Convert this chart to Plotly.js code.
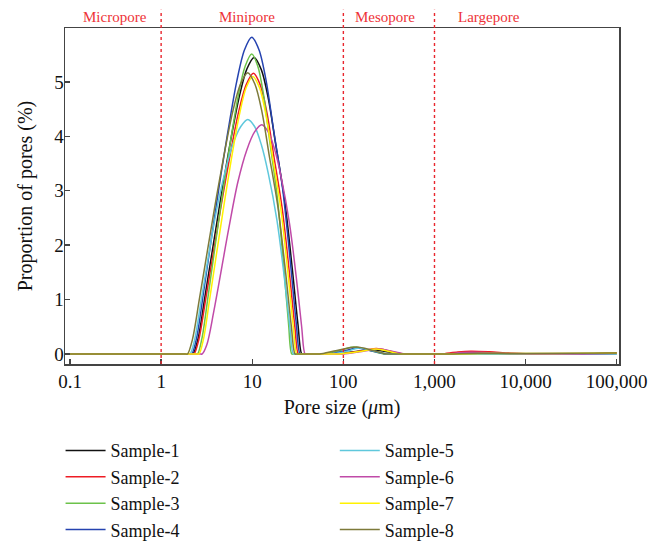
<!DOCTYPE html>
<html><head><meta charset="utf-8">
<script src="https://cdn.plot.ly/plotly-3.0.1.min.js"></script>
<style>html,body{margin:0;padding:0;background:#fff}#chart{width:669px;height:542px}</style>
</head><body><div id="chart"></div>
<script>
// ---- data (pore size in µm, proportion in %) ----
const sampleNames = ['Sample-1','Sample-2','Sample-3','Sample-4','Sample-5','Sample-6','Sample-7','Sample-8'];
const sampleColors = ['#111111','#ee1c24','#6cc24a','#2543b0','#5fc8dc','#c04aa8','#fff200','#7d7a3a'];

const x1 = [0.1, 2.13, 2.239, 2.534, 3.049, 4.482, 5.649, 7.118, 8.697, 10.47, 12.54, 15.03, 18.01, 22.64, 27.46, 31.73, 34.95, 36.7, 72, 80, 130, 200, 300, 420, 460, 1350, 1500, 3000, 8000, 8800, 30000, 100000];
const y1 = [0, 0, 0, 0.27, 1.09, 2.83, 3.82, 4.69, 5.23, 5.45, 5.23, 4.69, 3.87, 2.83, 1.58, 0.55, 0, 0, 0, 0, 0.04, 0.08, 0.04, 0, 0, 0, 0, 0.02, 0, 0, 0, 0.01];

const x2 = [0.1, 2.18, 2.297, 2.590, 3.100, 4.509, 5.645, 7.070, 8.590, 10.28, 12.20, 14.47, 17.16, 21.29, 25.54, 29.27, 32.06, 33.7, 81, 90, 150, 230, 330, 450, 495, 1080, 1200, 1800, 2500, 4000, 7000, 15000, 16500, 40000, 100000];
const y2 = [0, 0, 0, 0.26, 1.03, 2.68, 3.61, 4.44, 4.95, 5.16, 4.95, 4.44, 3.66, 2.68, 1.50, 0.52, 0, 0, 0, 0, 0.05, 0.10, 0.05, 0, 0, 0, 0, 0.035, 0.05, 0.04, 0.015, 0, 0, 0, 0.025];

const x3 = [0.1, 2.38, 2.509, 2.800, 3.301, 4.648, 5.708, 7.011, 8.377, 9.874, 11.49, 13.37, 15.56, 18.86, 22.17, 25.03, 27.14, 28.5, 54, 60, 90, 130, 190, 280, 310, 1800, 2000, 4000, 10000, 11000, 100000];
const y3 = [0, 0, 0, 0.28, 1.10, 2.87, 3.86, 4.74, 5.29, 5.51, 5.29, 4.74, 3.91, 2.87, 1.60, 0.55, 0, 0, 0, 0, 0.06, 0.13, 0.07, 0, 0, 0, 0, 0.01, 0, 0, 0.01];

const x4 = [0.1, 2.06, 2.168, 2.447, 2.935, 4.288, 5.384, 6.760, 8.232, 9.874, 11.85, 14.24, 17.09, 21.57, 26.19, 30.34, 33.48, 35.2, 63, 70, 100, 140, 200, 290, 320, 30000, 100000];
const y4 = [0, 0, 0, 0.29, 1.16, 3.03, 4.07, 5.01, 5.59, 5.82, 5.59, 5.01, 4.13, 3.03, 1.69, 0.58, 0, 0, 0, 0, 0.05, 0.11, 0.06, 0, 0, 0, 0.01];

const x5 = [0.1, 1.97, 2.076, 2.333, 2.779, 4.001, 4.980, 6.199, 7.492, 8.925, 10.61, 12.61, 14.99, 18.66, 22.44, 25.78, 28.26, 29.7, 68, 75, 110, 150, 210, 300, 330, 100000];
const y5 = [0, 0, 0, 0.26, 1.03, 2.59, 3.32, 3.88, 4.18, 4.31, 4.18, 3.84, 3.32, 2.46, 1.42, 0.52, 0, 0, 0, 0, 0.05, 0.11, 0.06, 0, 0, 0];

const x6 = [0.1, 2.67, 2.812, 3.173, 3.802, 5.545, 6.954, 8.719, 10.61, 12.72, 14.98, 17.66, 20.81, 25.62, 30.51, 34.80, 37.98, 39.9, 90, 100, 160, 250, 350, 470, 520, 1170, 1300, 2500, 5000, 12000, 13200, 30000, 100000];
const y6 = [0, 0, 0, 0.17, 0.80, 2.32, 3.16, 3.75, 4.08, 4.21, 4.08, 3.75, 3.24, 2.40, 1.39, 0.51, 0, 0, 0, 0, 0.045, 0.09, 0.045, 0, 0, 0, 0, 0.03, 0.015, 0, 0, 0, 0.015];

const x7 = [0.1, 2.48, 2.606, 2.905, 3.419, 4.801, 5.884, 7.213, 8.606, 10.13, 11.97, 14.14, 16.71, 20.64, 24.66, 28.18, 30.80, 32.3, 81, 90, 150, 230, 320, 420, 460, 1800, 2000, 5000, 20000, 100000];
const y7 = [0, 0, 0, 0.26, 1.02, 2.65, 3.57, 4.39, 4.90, 5.10, 4.90, 4.39, 3.62, 2.65, 1.48, 0.51, 0, 0, 0, 0, 0.045, 0.09, 0.045, 0, 0, 0, 0, 0.01, 0.01, 0.02];

const x8 = [0.1, 1.85, 1.949, 2.201, 2.642, 3.865, 4.856, 6.101, 7.435, 8.925, 10.68, 12.78, 15.28, 19.18, 23.23, 26.81, 29.50, 31.0, 50, 55, 85, 140, 210, 300, 330, 1350, 1500, 3000, 8000, 100000];
const y8 = [0, 0, 0, 0.26, 1.03, 2.69, 3.62, 4.45, 4.96, 5.17, 4.96, 4.45, 3.67, 2.69, 1.50, 0.52, 0, 0, 0, 0, 0.065, 0.13, 0.065, 0, 0, 0, 0, 0.015, 0.01, 0.02];

const zoneLabels = ['Micropore', 'Minipore', 'Mesopore', 'Largepore'];
const zoneBounds = [1, 100, 1000];
const xTickVals = [0.1, 1, 10, 100, 1000, 10000, 100000];
const xTickText = ['0.1', '1', '10', '100', '1,000', '10,000', '100,000'];
const yTickVals = [0, 1, 2, 3, 4, 5];

// ---- build ----
const xs = [x1, x2, x3, x4, x5, x6, x7, x8];
const ys = [y1, y2, y3, y4, y5, y6, y7, y8];
const FONT = 'Liberation Serif, Times New Roman, serif';

const traces = sampleNames.map((name, i) => ({
  type: 'scatter', mode: 'lines', name: name,
  x: xs[i], y: ys[i],
  line: {color: sampleColors[i], width: 1.5, shape: 'spline', smoothing: 0.9},
  legend: i < 4 ? 'legend' : 'legend2',
  hoverinfo: 'skip'
}));

const zoneLabelX = [0.090, 0.329, 0.578, 0.765];
const annotations = zoneLabels.map((t, i) => ({
  text: t, xref: 'paper', yref: 'paper', x: zoneLabelX[i], y: 1.033,
  xanchor: 'center', yanchor: 'middle', showarrow: false,
  font: {family: FONT, size: 15, color: '#ee3338'}
}));

const shapes = zoneBounds.map(b => ({
  type: 'line', xref: 'x', yref: 'paper', x0: b, x1: b, y0: 0, y1: 1.054,
  line: {color: '#e8262e', width: 1.4, dash: 'dot'}
}));

const legendBase = {
  xanchor: 'left', yanchor: 'top', y: -0.203,
  font: {family: FONT, size: 18, color: '#111'},
  bgcolor: 'rgba(0,0,0,0)', borderwidth: 0, orientation: 'v', itemwidth: 40
};

const layout = {
  width: 669, height: 542,
  margin: {l: 65, r: 50, t: 28, b: 178, autoexpand: false},
  paper_bgcolor: '#fff', plot_bgcolor: '#fff',
  font: {family: FONT, size: 19, color: '#111'},
  showlegend: true,
  xaxis: {
    type: 'log', range: [-1.055, 5.025], automargin: false,
    tickvals: xTickVals, ticktext: xTickText,
    ticks: 'inside', ticklen: 5, tickcolor: '#444', tickwidth: 1.3,
    showline: true, linecolor: '#444', linewidth: 1.5, mirror: true,
    showgrid: false, zeroline: false,
    tickfont: {family: FONT, size: 19, color: '#111'},
    title: {text: 'Pore size (<i>μ</i>m)', font: {family: FONT, size: 20, color: '#111'}, standoff: 8}
  },
  yaxis: {
    range: [-0.184, 5.99], automargin: false,
    tickvals: yTickVals,
    ticks: 'inside', ticklen: 5, tickcolor: '#444', tickwidth: 1.3,
    ticklabelstandoff: -4,
    showline: true, linecolor: '#444', linewidth: 1.5, mirror: true,
    showgrid: false, zeroline: false,
    tickfont: {family: FONT, size: 19, color: '#111'},
    title: {text: 'Proportion of pores (%)', font: {family: FONT, size: 20, color: '#111'}, standoff: 16}
  },
  legend: Object.assign({}, legendBase, {x: -0.008}),
  legend2: Object.assign({}, legendBase, {x: 0.487}),
  annotations: annotations,
  shapes: shapes
};

Plotly.newPlot('chart', traces, layout, {staticPlot: true, displayModeBar: false});
</script>
</body></html>
